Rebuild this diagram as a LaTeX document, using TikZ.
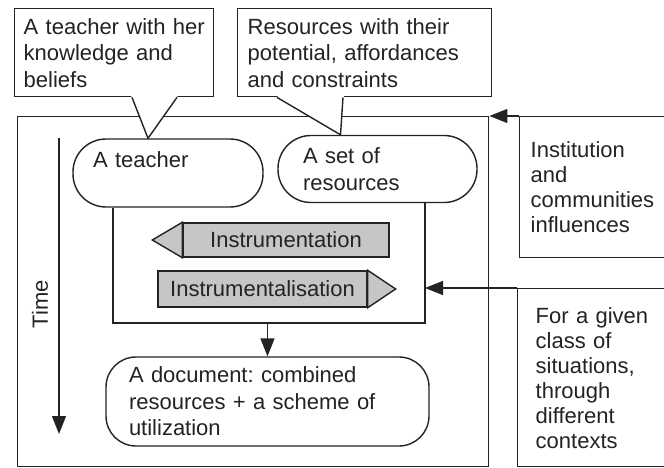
\documentclass[tikz,border=0pt]{standalone}
\usepackage{fontspec}
\setmainfont{Liberation Sans}
\usetikzlibrary{arrows.meta,calc}

\definecolor{inkC}{RGB}{35,35,35}
\definecolor{barC}{RGB}{198,198,198}

\tikzset{every picture/.style={line width=1.4pt}}
\tikzset{
  txtfont/.style={font=\fontsize{22}{26.5}\selectfont, text=inkC},
  callbox/.style={txtfont, draw=inkC, fill=white, anchor=north west, align=left, inner ysep=0pt},
  pill/.style={txtfont, draw=inkC, fill=white, rounded corners=33pt, align=left, inner ysep=0pt},
  sidebox/.style={draw=inkC, text=inkC, anchor=north west, align=left, inner ysep=0pt, font=\fontsize{22}{25}\selectfont},
  barbody/.style={txtfont, draw=inkC, fill=barC, inner sep=0pt},
  arrowline/.style={draw=inkC, -{Triangle[length=18pt,width=14pt]}},
}

\begin{document}
\begin{tikzpicture}[x=1pt,y=1pt,yscale=-1,xscale=1]
	\useasboundingbox (0,0) rectangle (664,468);
	
	%Outer frame
	\node [draw=inkC, minimum width=471pt, minimum height=350pt, anchor=north west, inner sep=0pt] (frame) at (17,116) {};
	
	%Time axis
	\coordinate (tstart) at (59,138);
	\coordinate (tend) at (59,434);
	\draw [arrowline] (tstart) -- (tend);
	\node [txtfont, rotate=90] (timelbl) at (40,304) {Time};
	
	%Teacher and resources
	\node [pill, minimum width=190pt, minimum height=68pt, text width=150pt, inner xsep=20pt] (teacher) at (168,173) {A teacher\\\mbox{}};
	\node [pill, minimum width=199pt, minimum height=67pt, text width=149pt, inner xsep=25pt] (resources) at (377.5,169) {A set of\\resources};
	
	%Inner box, open at the top
	\coordinate (innerSW) at (113,323);
	\coordinate (innerSE) at (425,323);
	\draw [draw=inkC] (teacher.south -| innerSW) -- (innerSW) -- (innerSE) -- (resources.south -| innerSE);
	
	%Callout: teacher
	\node [callbox, minimum width=199pt, minimum height=88pt, text width=181pt, inner xsep=9pt] (tcall) at (14,8) {A teacher with her\\knowledge and\\beliefs};
	\fill [white] ($(tcall.south west)+(117,-2)$) -- ($(teacher.north)+(-20,0)$) -- ($(tcall.south west)+(164,-2)$) -- cycle;
	\draw [draw=inkC] ($(tcall.south west)+(118,0)$) -- ($(teacher.north)+(-20,0)$) -- ($(tcall.south west)+(163,0)$);
	
	%Callout: resources
	\node [callbox, minimum width=254pt, minimum height=88pt, text width=234pt, inner xsep=10pt] (rcall) at (237,8) {Resources with their\\potential, affordances\\and constraints};
	\fill [white] ($(rcall.south west)+(39,-2)$) -- ($(resources.north)+(-37,0)$) -- ($(rcall.south west)+(107,-2)$) -- cycle;
	\draw [draw=inkC] ($(rcall.south west)+(40,0)$) -- ($(resources.north)+(-37,0)$) -- ($(rcall.south west)+(106,0)$);
	
	%Instrumentation (to the left)
	\node [barbody, minimum width=206pt, minimum height=34pt] (instr) at (286,240) {Instrumentation};
	\filldraw [draw=inkC, fill=barC] (instr.north west) -- ($(instr.west)+(-30,0)$) -- (instr.south west) -- cycle;
	
	%Instrumentalisation (to the right)
	\node [barbody, minimum width=209pt, minimum height=36pt] (instrz) at (262.5,289) {Instrumentalisation};
	\filldraw [draw=inkC, fill=barC] (instrz.north east) -- ($(instrz.east)+(28,0)$) -- (instrz.south east) -- cycle;
	
	%Document
	\node [pill, rounded corners=30pt, minimum width=323pt, minimum height=89pt, text width=277pt, inner xsep=23pt] (doc) at (267.5,401.5) {A document:\ combined\\resources + a scheme of\\utilization};
	\draw [arrowline] (innerSW -| doc.north) -- (doc.north);
	
	%Influences from the right
	\node [sidebox, minimum width=160pt, minimum height=141pt, text width=138pt, inner xsep=11pt] (inst) at (519,116) {Institution\\and\\communities\\influences};
	\draw [arrowline] (inst.north west) -- (frame.north east);
	
	\node [sidebox, minimum width=166pt, minimum height=178pt, text width=130pt, inner xsep=18pt] (given) at (517,288) {For a given\\class of\\situations,\\through\\different\\contexts};
	\draw [arrowline] (given.north west) -- (given.north west -| innerSE);
	
\end{tikzpicture}
\end{document}
